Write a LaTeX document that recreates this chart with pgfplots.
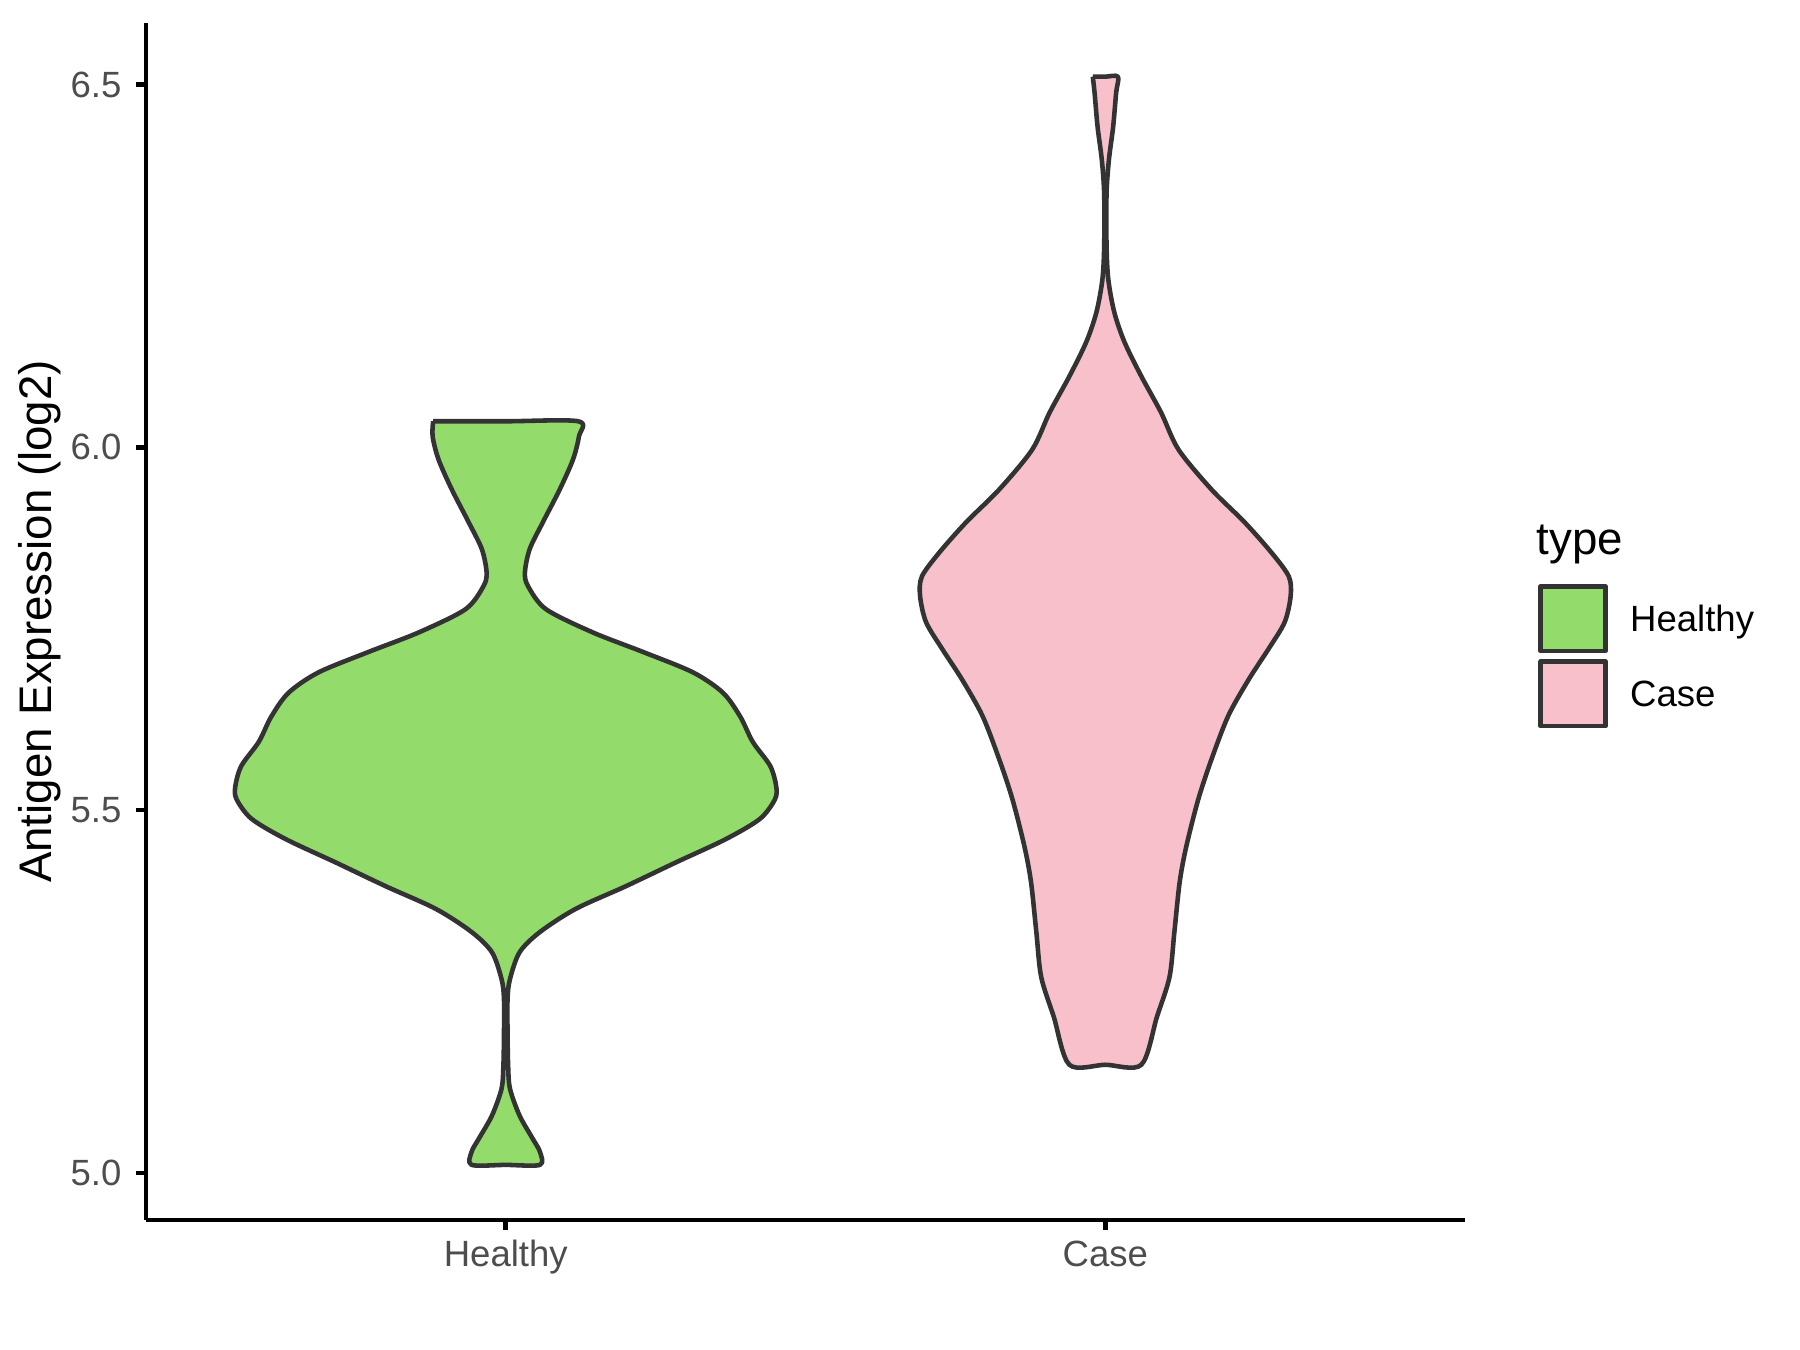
\documentclass[border=0pt]{standalone}
\usepackage{pgfplots}
\pgfplotsset{compat=1.18}
\usepackage{fontspec}
\setmainfont{Liberation Sans}
\definecolor{hgreen}{RGB}{147,219,107}
\definecolor{cpink}{RGB}{247,192,203}
\definecolor{outl}{RGB}{51,51,51}
\definecolor{tickc}{RGB}{77,77,77}
\begin{document}
\begin{tikzpicture}
\begin{axis}[
  scale only axis, clip=false,
  width=4.397in, height=3.99in,
  xmin=0.4, xmax=2.6, ymin=4.935, ymax=6.585,
  axis x line*=bottom, axis y line*=left,
  axis line style={black, line width=1.1pt},
  xtick={1,2}, xticklabels={Healthy,Case},
  ytick={5,5.5,6,6.5},
  tick align=outside, major tick length=2.4pt,
  tick style={black, line width=1.1pt},
  /pgf/number format/assume math mode=true,
  yticklabel style={/pgf/number format/.cd, fixed, fixed zerofill, precision=1},
  xticklabel style={yshift=1pt},
  ticklabel style={font=\fontsize{8.8}{10}\selectfont, text=tickc},
  ylabel={Antigen Expression (log2)},
  ylabel style={at={(axis description cs:-0.0804,0.5)}, anchor=center, font=\fontsize{11}{13}\selectfont},
  legend style={at={(axis description cs:1.055,0.532)}, anchor=north west, draw=none, fill=none,
    inner sep=0pt, row sep=1.4pt, font=\fontsize{8.8}{10}\selectfont,
    nodes={inner sep=0pt}},
  legend cell align=left,
  legend image code/.code={\draw[#1] (0pt,-7.15pt) rectangle (15.6pt,8.45pt); \path (21pt,0pt);},
]
\addplot[smooth, tension=0.5, fill=hgreen, draw=outl, line width=1.1pt, line join=round] coordinates {
(0.879,6.036) (0.878,6.015) (0.888,5.983) (0.910,5.942) (0.938,5.897) (0.960,5.860) (0.968,5.828) (0.963,5.809) (0.933,5.777) (0.855,5.745) (0.771,5.718) (0.688,5.690) (0.638,5.662) (0.609,5.629) (0.588,5.594) (0.559,5.561) (0.549,5.533) (0.551,5.515) (0.576,5.488) (0.633,5.460) (0.716,5.428) (0.800,5.395) (0.883,5.364) (0.943,5.332) (0.977,5.304) (0.993,5.267) (0.997,5.240) (0.997,5.190) (0.996,5.147) (0.993,5.116) (0.977,5.079) (0.955,5.047) (0.943,5.029) (0.943,5.011)
(1.000,5.011)
(1.057,5.011) (1.057,5.029) (1.045,5.047) (1.023,5.079) (1.007,5.116) (1.004,5.147) (1.003,5.190) (1.003,5.240) (1.007,5.267) (1.023,5.304) (1.057,5.332) (1.117,5.364) (1.200,5.395) (1.284,5.428) (1.367,5.460) (1.424,5.488) (1.449,5.515) (1.451,5.533) (1.441,5.561) (1.412,5.594) (1.391,5.629) (1.362,5.662) (1.312,5.690) (1.229,5.718) (1.145,5.745) (1.067,5.777) (1.037,5.809) (1.032,5.828) (1.040,5.860) (1.062,5.897) (1.090,5.942) (1.112,5.983) (1.122,6.015) (1.121,6.036)
(1.000,6.036) (0.879,6.036)
};
\addlegendentry{Healthy}
\addplot[smooth, tension=0.5, fill=cpink, draw=outl, line width=1.1pt, line join=round] coordinates {
(1.979,6.511) (1.982,6.489) (1.987,6.442) (1.994,6.397) (1.998,6.350) (1.998,6.277) (1.995,6.231) (1.985,6.186) (1.968,6.145) (1.940,6.098) (1.907,6.048) (1.878,5.997) (1.823,5.942) (1.768,5.897) (1.723,5.855) (1.694,5.822) (1.691,5.795) (1.701,5.759) (1.728,5.722) (1.761,5.680) (1.795,5.630) (1.823,5.570) (1.845,5.515) (1.865,5.450) (1.876,5.401) (1.885,5.331) (1.893,5.270) (1.914,5.215) (1.940,5.149)
(2.000,5.149)
(2.060,5.149) (2.086,5.215) (2.107,5.270) (2.115,5.331) (2.124,5.401) (2.135,5.450) (2.155,5.515) (2.177,5.570) (2.205,5.630) (2.239,5.680) (2.272,5.722) (2.299,5.759) (2.309,5.795) (2.306,5.822) (2.277,5.855) (2.232,5.897) (2.177,5.942) (2.122,5.997) (2.093,6.048) (2.060,6.098) (2.032,6.145) (2.015,6.186) (2.005,6.231) (2.002,6.277) (2.002,6.350) (2.006,6.397) (2.013,6.442) (2.018,6.489) (2.021,6.511)
(2.000,6.511) (1.979,6.511)
};
\addlegendentry{Case}
\node[anchor=west, font=\fontsize{11}{13}\selectfont] at (axis description cs:1.043,0.564) {type};
\end{axis}
\pgfresetboundingbox
\path (-0.4867in,-0.4333in) rectangle (5.5133in,4.0667in);
\end{tikzpicture}
\end{document}
